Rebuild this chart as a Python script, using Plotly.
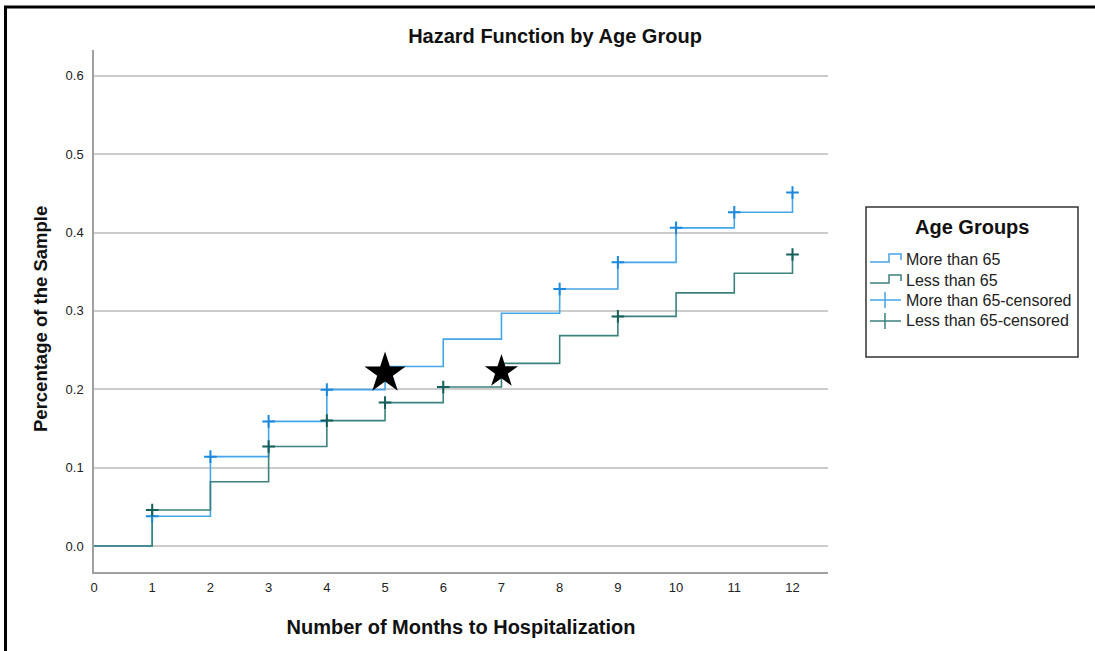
import plotly.graph_objects as go

# ---- data ----
months = [0, 1, 2, 3, 4, 5, 6, 7, 8, 9, 10, 11, 12]
hazard_more65 = [0, 0.038, 0.114, 0.159, 0.1995, 0.229, 0.264, 0.297, 0.328, 0.362, 0.406, 0.426, 0.451]
hazard_less65 = [0, 0.046, 0.082, 0.127, 0.160, 0.183, 0.203, 0.233, 0.2685, 0.293, 0.323, 0.348, 0.372]
cens_more65_x = [1, 2, 3, 4, 8, 9, 10, 11, 12]
cens_less65_x = [1, 3, 4, 5, 6, 9, 12]
star_x = [5, 7]
star_y = [0.2206, 0.2226]
y_ticks = [0.0, 0.1, 0.2, 0.3, 0.4, 0.5, 0.6]
y_tick_labels = ["0.0", "0.1", "0.2", "0.3", "0.4", "0.5", "0.6"]

cens_more65_y = [hazard_more65[months.index(m)] for m in cens_more65_x]
cens_less65_y = [hazard_less65[months.index(m)] for m in cens_less65_x]

BLUE = "#45a5e9"
BLUE_M = "#1a88dd"
TEAL = "#3b817d"
TEAL_M = "#135f5a"
FONT = "Liberation Sans, Arial, sans-serif"

W, H = 1095, 651
L, R, T, B = 94, 828, 50, 572


def px(x):
    return (x - L) / (R - L)


def py(y):
    return (B - y) / (B - T)


fig = go.Figure()
fig.add_trace(go.Scatter(x=months, y=hazard_more65, mode="lines", line=dict(color=BLUE, width=1.6, shape="hv"),
                         name="More than 65", showlegend=False))
fig.add_trace(go.Scatter(x=months, y=hazard_less65, mode="lines", line=dict(color=TEAL, width=1.6, shape="hv"),
                         name="Less than 65", showlegend=False))
fig.add_trace(go.Scatter(x=cens_more65_x, y=cens_more65_y, mode="markers",
                         marker=dict(symbol="cross-thin", size=9, line=dict(color=BLUE_M, width=2)),
                         name="More than 65-censored", showlegend=False))
fig.add_trace(go.Scatter(x=cens_less65_x, y=cens_less65_y, mode="markers",
                         marker=dict(symbol="cross-thin", size=9, line=dict(color=TEAL_M, width=2)),
                         name="Less than 65-censored", showlegend=False))
fig.add_trace(go.Scatter(x=star_x, y=star_y, mode="markers", opacity=1,
                         marker=dict(symbol="star", size=[31, 25], color="#000000", opacity=1,
                                     line=dict(width=0, color="#000000")),
                         showlegend=False, hoverinfo="skip"))

shapes = []
# outer frame (left & top)
shapes.append(dict(type="line", xref="paper", yref="paper", x0=px(5.5), x1=px(5.5), y0=py(6), y1=py(660),
                   line=dict(color="black", width=3)))
shapes.append(dict(type="line", xref="paper", yref="paper", x0=px(4), x1=px(1100), y0=py(7), y1=py(7),
                   line=dict(color="black", width=3)))
# legend box
shapes.append(dict(type="rect", xref="paper", yref="paper", x0=px(866), x1=px(1078), y0=py(207), y1=py(357),
                   line=dict(color="#333333", width=1.5), fillcolor="white"))


def path(points):
    return "M " + " L ".join(f"{px(a):.5f},{py(b):.5f}" for a, b in points)


legend_rows = [
    ("More than 65", 259, BLUE, "step"),
    ("Less than 65", 280, TEAL, "step"),
    ("More than 65-censored", 300, BLUE, "cross"),
    ("Less than 65-censored", 321, TEAL, "cross"),
]
annotations = [
    dict(text="<b>Age Groups</b>", xref="paper", yref="paper", x=px(972), y=py(227), showarrow=False,
         font=dict(family=FONT, size=20, color="#111111"), xanchor="center", yanchor="middle"),
    dict(text="<b>Percentage of the Sample</b>", xref="paper", yref="paper", x=px(40), y=py(319),
         showarrow=False, textangle=-90, font=dict(family=FONT, size=18.5, color="#111111"),
         xanchor="center", yanchor="middle"),
]
for label, yy, col, kind in legend_rows:
    if kind == "step":
        shapes.append(dict(type="path", xref="paper", yref="paper",
                           path=path([(870, yy + 3), (889, yy + 3), (889, yy - 5), (901, yy - 5), (901, yy + 1)]),
                           line=dict(color=col, width=1.5)))
    else:
        shapes.append(dict(type="line", xref="paper", yref="paper", x0=px(870), x1=px(901), y0=py(yy), y1=py(yy),
                           line=dict(color=col, width=1.5)))
        shapes.append(dict(type="line", xref="paper", yref="paper", x0=px(885), x1=px(885), y0=py(yy - 8),
                           y1=py(yy + 8), line=dict(color=col, width=1.5)))
    annotations.append(dict(text=label, xref="paper", yref="paper", x=px(904), y=py(yy), showarrow=False,
                            font=dict(family=FONT, size=16, color="#222222"), xanchor="left", yanchor="middle"))

fig.update_layout(
    width=W, height=H,
    margin=dict(l=L, r=W - R, t=T, b=H - B),
    paper_bgcolor="white", plot_bgcolor="white",
    title=dict(text="<b>Hazard Function by Age Group</b>", x=555 / W, xanchor="center", y=1 - 36 / H,
               yanchor="middle", font=dict(family=FONT, size=20, color="#111111")),
    xaxis=dict(range=[0, 12.61], tickmode="array", tickvals=months, ticktext=[str(m) for m in months],
               showgrid=False, zeroline=False, showline=True, linecolor="#a0a0a0", linewidth=1.5,
               ticks="", ticklabelstandoff=3, tickfont=dict(family=FONT, size=13, color="#222222"),
               title=dict(text="<b>Number of Months to Hospitalization</b>", standoff=26,
                          font=dict(family=FONT, size=20, color="#111111"))),
    yaxis=dict(range=[-0.0332, 0.633], tickmode="array", tickvals=y_ticks, ticktext=y_tick_labels,
               showgrid=True, gridcolor="#cccccc", gridwidth=1.5, zeroline=False, showline=True,
               linecolor="#a0a0a0", linewidth=1.5, ticks="", ticklabelstandoff=6,
               tickfont=dict(family=FONT, size=13, color="#222222")),
    shapes=shapes,
    annotations=annotations,
)

fig.write_html("out.html")
